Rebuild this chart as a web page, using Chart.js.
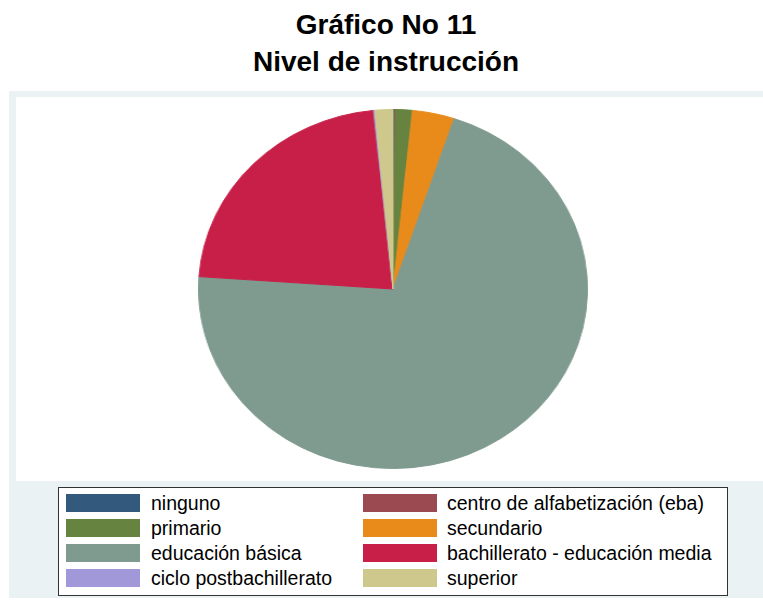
<!DOCTYPE html>
<html>
<head>
<meta charset="utf-8">
<script src="https://cdn.jsdelivr.net/npm/chart.js@4"></script>
<style>
  body { margin: 0; background: #fff; font-family: "Liberation Sans", Arial, sans-serif; }
  #page { position: relative; width: 763px; height: 602px; overflow: hidden; }
  #title { position: absolute; left: 0; top: 6px; width: 772px; text-align: center;
           font-weight: bold; font-size: 28px; line-height: 37px; color: #000; }
  #outer { position: absolute; left: 9px; top: 91px; width: 770px; height: 507px; background: #eaf2f3; }
  #inner { position: absolute; left: 16px; top: 97px; width: 770px; height: 384px; background: #fff; }
  #pieWrap { position: absolute; left: 213px; top: 109px; width: 360px; height: 360px;
             transform: scaleX(1.0833); transform-origin: 50% 50%; }
  #legend { position: absolute; left: 58px; top: 487px; width: 668px; height: 107px;
            border: 1px solid #333; background: #fff; }
  .sw { position: absolute; width: 74px; height: 18px; }
  .lb { position: absolute; font-size: 19.5px; line-height: 18px; color: #000; white-space: nowrap; }
</style>
</head>
<body>
<div id="page">
  <div id="title">Gráfico No 11<br>Nivel de instrucción</div>
  <div id="outer"></div>
  <div id="inner"></div>
  <div id="pieWrap"><canvas id="pieChart" width="360" height="360"></canvas></div>
  <div id="legend"></div>
</div>
<script>
const categories = [
  "ninguno",
  "centro de alfabetización (eba)",
  "primario",
  "secundario",
  "educación básica",
  "bachillerato - educación media",
  "ciclo postbachillerato",
  "superior"
];
const percentages = [0.15, 0.05, 1.4, 3.5, 71.0, 22.3, 0.1, 1.5];
const colors = ["#335a7d", "#9b4a52", "#66843f", "#e88b1b", "#7f9a8f", "#c81f48", "#a098d8", "#cec88c"];

function drawPie() {
  const ctx = document.getElementById("pieChart").getContext("2d");
  new Chart(ctx, {
    type: "pie",
    data: {
      labels: categories,
      datasets: [{
        data: percentages,
        backgroundColor: colors,
        borderColor: colors,
        borderWidth: 1
      }]
    },
    options: {
      responsive: false,
      animation: false,
      layout: { padding: 0 },
      plugins: {
        legend: { display: false },
        tooltip: { enabled: false }
      }
    }
  });
}

function buildLegend() {
  const legend = document.getElementById("legend");
  categories.forEach((label, i) => {
    const col = i % 2;
    const row = Math.floor(i / 2);
    const sw = document.createElement("div");
    sw.className = "sw";
    sw.style.left = (col === 0 ? 7 : 304) + "px";
    sw.style.top = (6 + row * 25) + "px";
    sw.style.background = colors[i];
    legend.appendChild(sw);
    const lb = document.createElement("div");
    lb.className = "lb";
    lb.style.left = (col === 0 ? 92 : 388) + "px";
    lb.style.top = (6 + row * 25) + "px";
    lb.innerText = label;
    legend.appendChild(lb);
  });
}

drawPie();
buildLegend();
</script>
</body>
</html>
